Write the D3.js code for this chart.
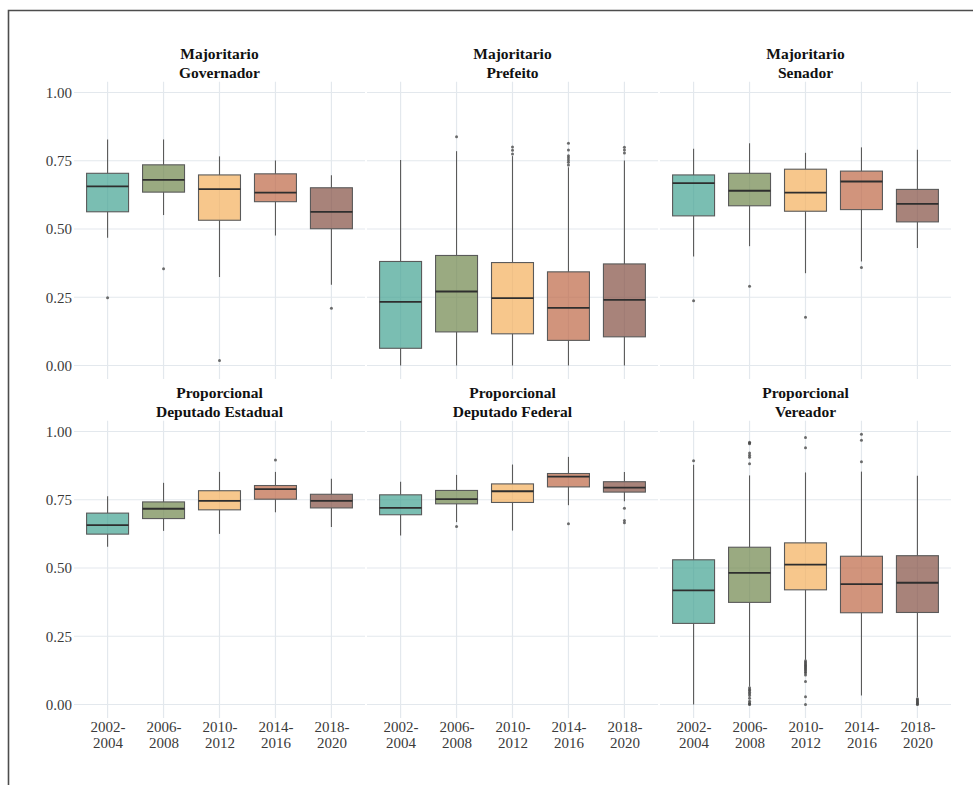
<!DOCTYPE html>
<html>
<head>
<meta charset="utf-8">
<script src="https://cdn.jsdelivr.net/npm/d3@7"></script>
<style>
  html, body { margin: 0; padding: 0; background: #fff; }
  svg { display: block; }
  text { font-family: "Liberation Serif", "Times New Roman", serif; }
</style>
</head>
<body>
<svg id="chart" width="973" height="785"></svg>
<script>
// Election periods (x categories, shared by every facet)
const periods = ["2002-2004", "2006-2008", "2010-2012", "2014-2016", "2018-2020"];

// Facet titles: system / office
const panelTitles = [
  ["Majoritario", "Governador"],
  ["Majoritario", "Prefeito"],
  ["Majoritario", "Senador"],
  ["Proporcional", "Deputado Estadual"],
  ["Proporcional", "Deputado Federal"],
  ["Proporcional", "Vereador"]
];

// Box-plot statistics, one row per facet, one value per period
const whiskerLow = [
  [0.468, 0.551, 0.324, 0.476, 0.296],
  [0.000, 0.000, 0.000, 0.000, 0.000],
  [0.399, 0.437, 0.338, 0.381, 0.430],
  [0.578, 0.636, 0.625, 0.704, 0.650],
  [0.619, 0.668, 0.637, 0.730, 0.744],
  [0.000, 0.066, 0.164, 0.033, 0.027]
];
const quartile1 = [
  [0.563, 0.635, 0.532, 0.600, 0.501],
  [0.063, 0.123, 0.116, 0.092, 0.105],
  [0.548, 0.585, 0.565, 0.571, 0.526],
  [0.624, 0.681, 0.713, 0.752, 0.720],
  [0.695, 0.735, 0.740, 0.797, 0.778],
  [0.297, 0.374, 0.420, 0.336, 0.337]
];
const medians = [
  [0.656, 0.680, 0.646, 0.633, 0.563],
  [0.233, 0.271, 0.247, 0.211, 0.240],
  [0.668, 0.640, 0.633, 0.674, 0.592],
  [0.657, 0.717, 0.746, 0.789, 0.746],
  [0.720, 0.752, 0.781, 0.835, 0.794],
  [0.418, 0.482, 0.512, 0.441, 0.446]
];
const quartile3 = [
  [0.704, 0.735, 0.698, 0.702, 0.651],
  [0.381, 0.403, 0.377, 0.343, 0.372],
  [0.698, 0.704, 0.719, 0.712, 0.645],
  [0.701, 0.742, 0.783, 0.802, 0.770],
  [0.768, 0.784, 0.808, 0.846, 0.816],
  [0.530, 0.576, 0.592, 0.543, 0.545]
];
const whiskerHigh = [
  [0.828, 0.828, 0.766, 0.751, 0.697],
  [0.753, 0.785, 0.767, 0.726, 0.751],
  [0.794, 0.814, 0.779, 0.799, 0.790],
  [0.763, 0.812, 0.852, 0.852, 0.827],
  [0.816, 0.841, 0.879, 0.907, 0.852],
  [0.878, 0.839, 0.850, 0.853, 0.838]
];
const outliers = [
  [[0.248], [0.354], [0.018], [], [0.210]],
  [[], [0.838], [0.800, 0.788, 0.775],
   [0.814, 0.789, 0.768, 0.761, 0.753, 0.744, 0.734], [0.799, 0.789, 0.778]],
  [[0.237], [0.290], [0.177], [0.359], []],
  [[], [], [], [0.896], []],
  [[], [0.652], [], [0.662], [0.719, 0.674, 0.666]],
  [[0.893],
   [0.961, 0.958, 0.955, 0.921, 0.913, 0.906, 0.882,
    0.061, 0.055, 0.051, 0.045, 0.039, 0.033, 0.023, 0.012, 0.005, 0.002, 0.000],
   [0.978, 0.940,
    0.160, 0.155, 0.150, 0.146, 0.142, 0.138, 0.134, 0.130, 0.125, 0.120, 0.115, 0.108,
    0.084, 0.028, 0.000],
   [0.990, 0.968, 0.889],
   [0.021, 0.017, 0.013, 0.009, 0.005, 0.002, 0.000]]
];

const yTicks = [0, 0.25, 0.5, 0.75, 1];
const periodColors = ["#42a292", "#6f864c", "#f4af5b", "#bd6645", "#834e41"];

// ---- layout ----
const svg = d3.select("#chart");
const panelLefts = [74, 367, 660];
const panelWidth = 291;
const rowOffset = 339;
const rowRange = [379, 81.7];      // pixel range of the y axis in the first row

// Shared y domain: data extent expanded by 5% on each side
const allValues = [whiskerLow, whiskerHigh, outliers].flat(3);
const [yMin, yMax] = d3.extent(allValues);
const pad = (yMax - yMin) * 0.05;
const yDomain = [yMin - pad, yMax + pad];

const gridColor = "#e3e8ed";

// Outer frame
svg.append("path")
  .attr("d", "M8.5,785 V10.5 H973")
  .attr("fill", "none")
  .attr("stroke", "#4d4d4d")
  .attr("stroke-width", 1.6);

panelTitles.forEach((title, p) => {
  const row = Math.floor(p / 3), col = p % 3;
  const left = panelLefts[col];
  const x = d3.scalePoint().domain(periods).range([left, left + panelWidth]).padding(0.6);
  const y = d3.scaleLinear().domain(yDomain)
    .range([rowRange[0] + row * rowOffset, rowRange[1] + row * rowOffset]);
  const boxW = x.step() * 0.75;
  const g = svg.append("g");

  // Grid
  g.selectAll(".hgrid").data(yTicks).join("line")
    .attr("x1", left).attr("x2", left + panelWidth)
    .attr("y1", d => y(d)).attr("y2", d => y(d))
    .attr("stroke", gridColor).attr("stroke-width", 1.2);
  g.selectAll(".vgrid").data(periods).join("line")
    .attr("x1", d => x(d)).attr("x2", d => x(d))
    .attr("y1", y.range()[0]).attr("y2", y.range()[1])
    .attr("stroke", gridColor).attr("stroke-width", 1.2);

  // Facet title
  const strip = g.append("text")
    .attr("text-anchor", "middle")
    .attr("font-weight", "bold")
    .attr("font-size", "15.5px")
    .attr("fill", "#111");
  strip.append("tspan").attr("x", left + panelWidth / 2).attr("y", 59 + row * rowOffset).text(title[0]);
  strip.append("tspan").attr("x", left + panelWidth / 2).attr("y", 77.5 + row * rowOffset).text(title[1]);

  // Boxes
  periods.forEach((per, i) => {
    const cx = x(per);
    const lineCol = "#5a5a5a";
    g.append("line")
      .attr("x1", cx).attr("x2", cx)
      .attr("y1", y(quartile3[p][i])).attr("y2", y(whiskerHigh[p][i]))
      .attr("stroke", lineCol).attr("stroke-width", 1.1);
    g.append("line")
      .attr("x1", cx).attr("x2", cx)
      .attr("y1", y(quartile1[p][i])).attr("y2", y(whiskerLow[p][i]))
      .attr("stroke", lineCol).attr("stroke-width", 1.1);
    g.append("rect")
      .attr("x", cx - boxW / 2).attr("width", boxW)
      .attr("y", y(quartile3[p][i]))
      .attr("height", y(quartile1[p][i]) - y(quartile3[p][i]))
      .attr("fill", periodColors[i]).attr("fill-opacity", 0.7)
      .attr("stroke", lineCol).attr("stroke-width", 1.1);
    g.append("line")
      .attr("x1", cx - boxW / 2).attr("x2", cx + boxW / 2)
      .attr("y1", y(medians[p][i])).attr("y2", y(medians[p][i]))
      .attr("stroke", "#2e2e2e").attr("stroke-width", 1.8);
    g.selectAll(null).data(outliers[p][i]).join("circle")
      .attr("cx", cx).attr("cy", d => y(d)).attr("r", 1.5)
      .attr("fill", "#4a4a4a").attr("fill-opacity", 0.8);
  });

  // Y axis labels on the first column
  if (col === 0) {
    const ax = g.append("g")
      .attr("transform", `translate(${left},0)`)
      .call(d3.axisLeft(y).tickValues(yTicks).tickFormat(d3.format(".2f")).tickSize(0).tickPadding(2));
    ax.select(".domain").remove();
    ax.selectAll("text")
      .attr("font-family", "'Liberation Serif', serif")
      .attr("font-size", "15px")
      .attr("fill", "#3a3a3a");
  }

  // X axis labels on the bottom row
  if (row === 1) {
    const ax = g.append("g")
      .attr("transform", `translate(0,${y.range()[0]})`)
      .call(d3.axisBottom(x).tickSize(0).tickPadding(3));
    ax.select(".domain").remove();
    ax.selectAll("text").each(function (d) {
      const t = d3.select(this);
      const parts = d.split("-");
      t.text(null).attr("y", null).attr("dy", null)
        .attr("font-family", "'Liberation Serif', serif")
        .attr("font-size", "15px")
        .attr("fill", "#3a3a3a");
      t.append("tspan").attr("x", 0).attr("y", 14).text(parts[0] + "-");
      t.append("tspan").attr("x", 0).attr("y", 29.5).text(parts[1]);
    });
  }
});
</script>
</body>
</html>
